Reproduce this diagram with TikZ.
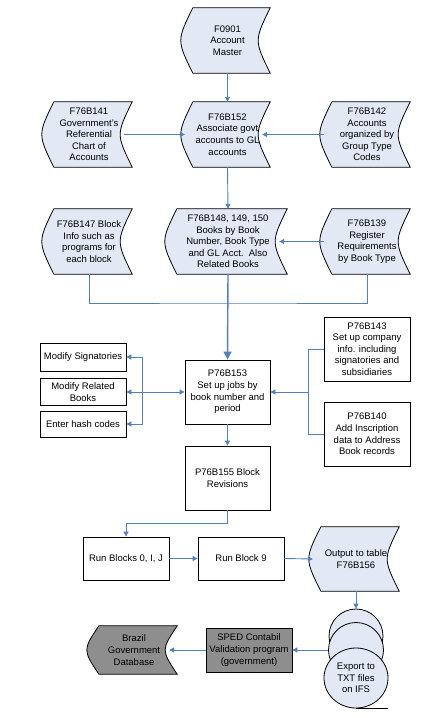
\documentclass[tikz,border=0pt]{standalone}
\usepackage{fontspec}
\setmainfont{Liberation Sans}
\usetikzlibrary{arrows.meta,shapes.geometric,calc}
\definecolor{lblue}{RGB}{79,129,189}
\definecolor{pale}{RGB}{226,233,245}
\definecolor{midgray}{RGB}{142,142,142}
\pgfdeclarelayer{bg}
\pgfdeclarelayer{paper}
\pgfsetlayers{paper,bg,main}
\newcommand{\sdshape}[2]{%
  \begin{pgfonlayer}{bg}
  \path[draw=black,line width=0.8pt,fill=#2]
    ([xshift=8pt]#1.north west) -- (#1.north east)
    .. controls ([xshift=-16pt]#1.east) .. (#1.south east)
    -- ([xshift=8pt]#1.south west)
    .. controls ([xshift=-8pt]#1.west) .. ([xshift=8pt]#1.north west) -- cycle;
  \end{pgfonlayer}
  \coordinate (#1-e) at ([xshift=-8pt]#1.east);}
\tikzset{
  base/.style={font=\fontsize{9.5}{11.6}\selectfont, align=center, inner sep=0pt},
  sd/.style={base, minimum width=86pt, minimum height=65pt},
  box/.style={base, draw=black, line width=0.8pt, fill=white, minimum width=86pt, minimum height=64pt},
  conn/.style={draw=lblue, line width=0.9pt},
  arr/.style={conn, -{Triangle[length=5pt,width=5pt]}},
  disk/.style={draw=black, line width=0.8pt, fill=pale, inner sep=0pt},
}
\begin{document}
\begin{tikzpicture}[x=1pt,y=-1pt]
\begin{pgfonlayer}{paper}
\fill[white] (0,0) rectangle (437,718);
\end{pgfonlayer}
\useasboundingbox (0,0) rectangle (437,718);
% stored data nodes
\node[sd, minimum width=85pt] (f0901) at (227.5,40.5) {F0901\\Account\\Master};
\sdshape{f0901}{pale}
\node[sd, minimum width=85pt] (f152) at (227.5,134.5) {F76B152\\Associate govt\\accounts to GL\\accounts};
\sdshape{f152}{pale}
\node[sd] (f141) at (89,134.5) {F76B141\\Government’s\\Referential\\Chart of\\Accounts};
\sdshape{f141}{pale}
\node[sd] (f142) at (367,134.5) {F76B142\\Accounts\\organized by\\Group Type\\Codes};
\sdshape{f142}{pale}
\node[sd] (f147) at (89,241.5) {F76B147 Block\\Info such as\\programs for\\each block};
\sdshape{f147}{pale}
\node[sd, minimum width=118pt] (f148) at (228,241.5) {F76B148, 149, 150\\Books by Book\\Number, Book Type\\and GL Acct.\ \ Also\\Related Books};
\sdshape{f148}{pale}
\node[sd] (f139) at (367,241.5) {F76B139\\Register\\Requirements\\by Book Type};
\sdshape{f139}{pale}
% boxes
\node[box, minimum width=85pt] (p153) at (227.5,392) {P76B153\\Set up jobs by\\book number and\\period};
\node[box] (p143) at (367,349) {P76B143\\Set up company\\info. including\\signatories and\\subsidiaries};
\node[box] (p140) at (367,434) {P76B140\\Add Inscription\\data to Address\\Book records};
\node[box, minimum height=28pt] (modsig) at (83,357) {Modify Signatories};
\node[box, minimum height=27pt] (modrel) at (83,392) {Modify Related\\Books};
\node[box, minimum height=26pt] (hash) at (83,424) {Enter hash codes};
\node[box, minimum width=85pt] (p155) at (227.5,478) {P76B155 Block\\Revisions};
\node[box, minimum height=43pt] (run0) at (126,558.5) {Run Blocks 0, I, J};
\node[box, minimum height=43pt] (run9) at (241,558.5) {Run Block 9};
\node[sd, minimum height=64pt] (out) at (356,559) {Output to table\\F76B156};
\sdshape{out}{pale}
\node[box, fill=midgray, minimum height=44pt] (sped) at (249,650) {SPED Contabil\\Validation program\\(government)};
\node[sd, minimum height=48pt] (brazil) at (134,650) {Brazil\\Government\\Database};
\sdshape{brazil}{midgray}
% disk stack
\node[disk, circle, minimum size=54pt] (disk1) at (356,636) {};
\node[disk, circle, minimum size=55pt] (disk2) at (356,650) {};
\node[disk, ellipse, base, minimum width=64pt, minimum height=60pt] (disk3) at (356,678) {Export to\\TXT files\\on IFS};
\draw[black, line width=0.8pt] (disk3.south) -- (disk3.south -| disk3.east);
% connectors
\coordinate (jmid) at (228,303);
\coordinate (jr) at (308,392);
\coordinate (jl) at (142,392);
\coordinate (bend) at (227.5,523);
\draw[arr] (f0901.south) -- (f152.north);
\draw[arr] (f141-e) -- (f152.west);
\draw[arr] (f142.west) -- (f152-e);
\draw[arr] (f152.south) -- (f148.north);
\draw[arr] (f139.west) -- (f148-e);
\draw[conn] (f147.south) |- (jmid) -| (f139.south);
\draw[conn, line width=1.4pt, -{Triangle[length=8pt,width=8pt]}] (f148.south) -- (p153.north);
\draw[conn] (p143.west) -| (jr);
\draw[conn] (p140.west) -| (jr);
\draw[arr] (jr) -- (p153.east);
\draw[conn, {Triangle[length=5pt,width=5pt]}-{Triangle[length=5pt,width=5pt]}] (modrel.east) -- (p153.west);
\draw[arr] (jl) |- (modsig.east);
\draw[arr] (jl) |- (hash.east);
\draw[arr] (p153.south) -- (p155.north);
\draw[arr] (p155.south) -- (bend) -| (run0.north);
\draw[arr] (run0.east) -- (run9.west);
\draw[arr] (run9.east) -- (out.west);
\draw[arr] (out.south) -- (disk1.north);
\draw[arr] (disk2.west) -- (sped.east);
\draw[arr] (sped.west) -- (brazil-e);
\end{tikzpicture}
\end{document}
